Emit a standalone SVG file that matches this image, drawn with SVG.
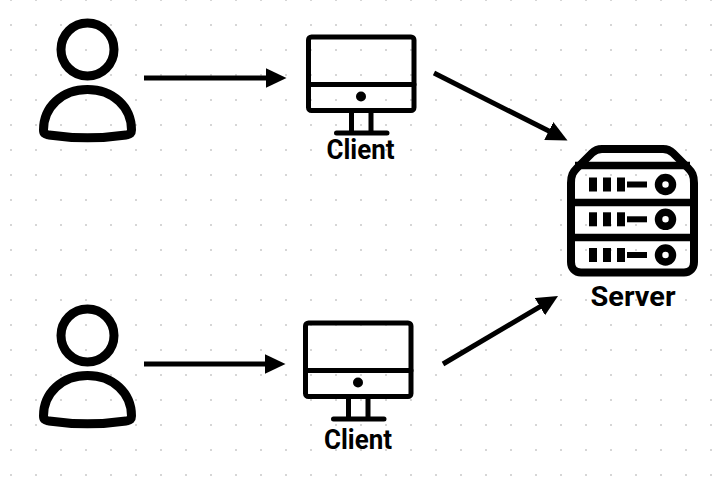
<svg xmlns="http://www.w3.org/2000/svg" width="727" height="483" viewBox="0 0 727 483">
<defs>
<pattern id="grid" x="10" y="-1" width="25" height="25" patternUnits="userSpaceOnUse"><rect x="0" y="0" width="2" height="2" fill="#d6d6d6"/></pattern>
<marker id="arrow" markerUnits="userSpaceOnUse" markerWidth="22" markerHeight="22" refX="9" refY="11" orient="auto"><path d="M0 1L21 11L0 21Z" fill="#000"/></marker>
<g id="person-icon" fill="none" stroke="#000" stroke-width="9" stroke-linejoin="round">
<circle cx="87.5" cy="49.500" r="26.500"/>
<path d="M43.500 130C43.500 107 62 89.500 87.500 89.500C113 89.500 131.500 107 131.500 130C131.500 134 130 134 126 135C102 138.500 73 138.500 49 135C45 134 43.500 134 43.500 130Z"/>
</g>
<g id="monitor-icon" fill="none" stroke="#000" stroke-width="5" stroke-linecap="round" stroke-linejoin="round">
<rect x="308.500" y="37" width="105.500" height="73.500" rx="3"/>
<path d="M308.500 84.500H414M351.500 110.500V133M371 110.500V133M336.500 133H387"/>
<circle cx="361" cy="96.500" r="5" fill="#000" stroke="none"/>
</g>
<g id="row-icon">
<rect x="589" y="0" width="8" height="14"/><rect x="603" y="0" width="8" height="14"/><rect x="617" y="0" width="8" height="14"/>
<rect x="627" y="4" width="20" height="6"/>
<circle cx="665.500" cy="7" r="7" fill="none" stroke="#000" stroke-width="7.500"/>
</g>
</defs>
<style>
.lbl{font-family:"Roboto","Noto Sans",sans-serif;font-weight:700;font-size:27px;text-anchor:middle;fill:#000}
.cn{fill:none;stroke:#000;stroke-width:5;marker-end:url(#arrow)}
</style>
<rect width="727" height="483" fill="#fff"/>
<rect width="727" height="483" fill="url(#grid)"/>
<g id="connectors">
<path class="cn" d="M144 78H274.500"/>
<path class="cn" d="M144 364H273.500"/>
<path class="cn" d="M434 73L556.800 135.100"/>
<path class="cn" d="M443 364L547.700 302.100"/>
</g>
<g id="user-1"><use href="#person-icon"/></g>
<g id="user-2"><use href="#person-icon" y="286"/></g>
<g id="client-1"><use href="#monitor-icon"/><text class="lbl" x="360.500" y="159" textLength="68" lengthAdjust="spacingAndGlyphs">Client</text></g>
<g id="client-2"><use href="#monitor-icon" x="-3" y="286"/><text class="lbl" x="358" y="449" textLength="68" lengthAdjust="spacingAndGlyphs">Client</text></g>
<g id="server">
<path d="M571 183C571 175 573 172 577 168L592 153C595 150 598 149 602 149H663C667 149 670 150 673 153L688 168C692 172 694 175 694 183V262C694 268 690 272.500 684 272.500H581C575 272.500 571 268 571 262Z" fill="none" stroke="#000" stroke-width="8" stroke-linejoin="round"/>
<path d="M575 165.500H690M572 202.500H693M572 237.500H693" fill="none" stroke="#000" stroke-width="7.500"/>
<use href="#row-icon" y="177.500"/><use href="#row-icon" y="212.300"/><use href="#row-icon" y="248"/>
<text class="lbl" x="633" y="306" textLength="85" lengthAdjust="spacingAndGlyphs">Server</text>
</g>
</svg>
